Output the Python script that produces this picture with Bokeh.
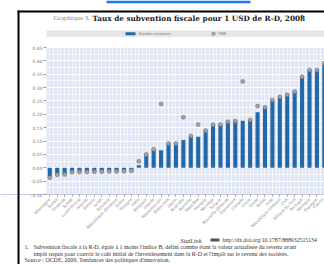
import math
from bokeh.plotting import figure
from bokeh.models import (Range1d, FixedTicker, Label, BoxAnnotation,
                          ColumnDataSource, NumeralTickFormatter)
from bokeh.embed import file_html
from bokeh.resources import INLINE

# ---------------- data ----------------
countries = [
    "Allemagne", "Suisse", "Finlande", "Suède", "Luxembourg", "Islande",
    "Estonie", "Israël", "Slovénie", "République slovaque", "Grèce", "Pologne",
    "Italie", "Belgique", "Irlande", "Royaume-Uni", "États-Unis", "Japon",
    "Australie", "Autriche", "Pays-Bas", "Hongrie", "Norvège", "Turquie",
    "Nouvelle-Zélande", "Danemark", "Canada", "Chine", "Corée", "Brésil",
    "Inde", "République tchèque", "Chili", "Afrique du Sud", "Portugal",
    "Mexique", "Espagne", "France",
]
large_firms = [
    -0.034, -0.026, -0.025, -0.017, -0.016, -0.016, -0.015, -0.015, -0.014,
    -0.014, -0.013, -0.011, 0.009, 0.050, 0.069, 0.066, 0.091, 0.091, 0.104,
    0.119, 0.116, 0.139, 0.161, 0.162, 0.172, 0.175, 0.176, 0.179, 0.208,
    0.226, 0.254, 0.266, 0.273, 0.285, 0.341, 0.366, 0.366, 0.391,
]
sme = [
    -0.037, -0.026, -0.025, -0.017, -0.016, -0.016, -0.015, -0.015, -0.014,
    -0.014, -0.013, -0.011, 0.024, 0.050, 0.069, 0.239, 0.091, 0.091, 0.189,
    0.119, 0.162, 0.139, 0.161, 0.162, 0.172, 0.175, 0.323, 0.179, 0.231,
    0.226, 0.254, 0.266, 0.273, 0.285, 0.341, 0.366, 0.366, 0.391,
]
y_ticks = [-0.10, -0.05, 0.00, 0.05, 0.10, 0.15, 0.20, 0.25, 0.30, 0.35, 0.40, 0.45]
series_names = ["Grandes entreprises", "PME"]

title_prefix = "Graphique 3."
title_main = "Taux de subvention fiscale pour 1 USD de R-D, 2008"
title_note = "1"
statlink_word = "StatLink"
statlink_url = "http://dx.doi.org/10.1787/888932515134"
note_num = "1."
note_1a = "Subvention fiscale à la R-D, égale à 1 moins l'indice B, défini comme étant la valeur actualisée du revenu avant"
note_1b = "impôt requis pour couvrir le coût initial de l'investissement dans la R-D et l'impôt sur le revenu des sociétés."
source = "Source : OCDE, 2009, Tendances des politiques d'innovation."

idx = list(range(len(countries)))
src = ColumnDataSource(dict(x=idx, large=large_firms, sme=sme))

# ---------------- figure ----------------
# The frame fills the whole canvas; both axes are pinned to the edges of the
# data area, and the page furniture (frame, title, legend, notes) is drawn in
# canvas pixels around it.
W, H = 324, 264
X_LO = -0.445                     # left edge of the data area
Y_LO, Y_HI = -0.10, 0.45
xpx = 1 / 7.42                    # data units per pixel, x
ypx = (Y_HI - Y_LO) / 147.0       # data units per pixel, y
x_start = X_LO - 46 * xpx
y_top = Y_HI + 47 * ypx
y_bot = Y_LO - (H - 194) * ypx

p = figure(width=W, height=H, output_backend="svg", toolbar_location=None,
           title=None,
           x_range=Range1d(x_start, x_start + W * xpx),
           y_range=Range1d(y_bot, y_top),
           min_border_left=0, min_border_right=0, min_border_top=0,
           min_border_bottom=0)
p.background_fill_color = "white"
p.border_fill_color = "white"
p.outline_line_color = None

p.add_layout(BoxAnnotation(left=X_LO, bottom=Y_LO, top=Y_HI,
                           fill_color="#e1e6f4", fill_alpha=1,
                           line_color=None, level="image"))

bars = p.vbar(x="x", top="large", bottom=0, width=0.55, fill_color="#2368a8",
              line_color=None, source=src)
dots = p.scatter(x="x", y="sme", size=4, fill_color="#a3a3a3",
                 line_color="#777777", line_width=0.6, source=src)

# grids
p.ygrid.ticker = FixedTicker(ticks=y_ticks,
                             minor_ticks=[t + 0.025 for t in y_ticks[:-1]])
p.ygrid.grid_line_color = "white"
p.ygrid.minor_grid_line_color = "white"
p.ygrid.minor_grid_line_alpha = 0.6
p.xgrid.ticker = FixedTicker(ticks=idx, minor_ticks=[i + 0.5 for i in idx])
p.xgrid.grid_line_color = "white"
p.xgrid.grid_line_alpha = 0.6
p.xgrid.minor_grid_line_color = "white"
p.xgrid.minor_grid_line_alpha = 0.6

# y axis, pinned to the left edge of the data area
ya = p.yaxis[0]
ya.fixed_location = X_LO
ya.ticker = FixedTicker(ticks=y_ticks)
ya.formatter = NumeralTickFormatter(format="0.00")
ya.major_label_text_font = "DejaVu Sans"
ya.major_label_text_font_size = "4.5px"
ya.major_label_text_color = "#777777"
ya.axis_line_color = None
ya.major_tick_line_color = "#999999"
ya.major_tick_out = 3
ya.major_tick_in = 0
ya.minor_tick_line_color = None
ya.major_label_standoff = 1

# x axis, pinned to the bottom of the data area
xa = p.xaxis[0]
xa.fixed_location = Y_LO
xa.ticker = FixedTicker(ticks=idx)
xa.major_label_overrides = {i: c for i, c in zip(idx, countries)}
xa.major_label_orientation = math.pi / 4
xa.major_label_text_font = "DejaVu Sans"
xa.major_label_text_font_size = "4px"
xa.major_label_text_color = "#888888"
xa.axis_line_color = "#c8cce0"
xa.major_tick_line_color = "#999999"
xa.major_tick_out = 2
xa.major_tick_in = 0
xa.minor_tick_line_color = None
xa.major_label_standoff = 2

# ---------------- page furniture (canvas pixels) ----------------
def box(l, r, t, b, color, radius=0, line=None):
    p.add_layout(BoxAnnotation(left=l, right=r, top=t, bottom=b,
                               left_units="canvas", right_units="canvas",
                               top_units="canvas", bottom_units="canvas",
                               fill_color=color, fill_alpha=1,
                               line_color=line, line_width=0.5,
                               border_radius=radius))

def text(x, y, s, size, color, font, style="normal"):
    p.add_layout(Label(x=x, y=y, x_units="canvas", y_units="canvas", text=s,
                       text_font=font, text_font_size=size, text_color=color,
                       text_font_style=style, text_align="left",
                       text_baseline="middle"))

SERIF = "Liberation Serif"
# highlight bar at the top and the black page frame
box(106, 250, 0, 2.7, "#1f78e6")
box(17, W, 10, 12, "black")
box(17, 19, 10, H, "black")

# title
text(53, 17.5, title_prefix, "7px", "#8a8a8a", SERIF)
text(92, 17.5, title_main, "7.3px", "#222222", "DejaVu Serif", "bold")
text(299.5, 15, title_note, "4.5px", "#222222", "DejaVu Serif", "bold")

# legend band
box(46, W, 30, 36.5, "#e6e6e6")
box(125, 135, 31.8, 34.8, "#2368a8")
text(138, 33.3, series_names[0], "3.6px", "#777777", "Liberation Sans")
box(211, 215, 31.3, 35.3, "#a3a3a3", radius=2, line="#777777")
text(218, 33.3, series_names[1], "3.6px", "#777777", "Liberation Sans")

# notes
text(180, 239.5, statlink_word, "6.3px", "#333333", SERIF, "italic")
box(210, 219, 238, 241, "#555555")
text(222, 239.5, statlink_url, "5.8px", "#333333", SERIF)
text(24, 246.5, note_num, "5.9px", "#333333", SERIF)
text(33, 246.5, note_1a, "5.9px", "#333333", SERIF)
text(33, 253, note_1b, "5.9px", "#333333", SERIF)
text(24, 259.8, source, "5.9px", "#333333", SERIF)

open("out.html", "w").write(file_html(p, INLINE))
